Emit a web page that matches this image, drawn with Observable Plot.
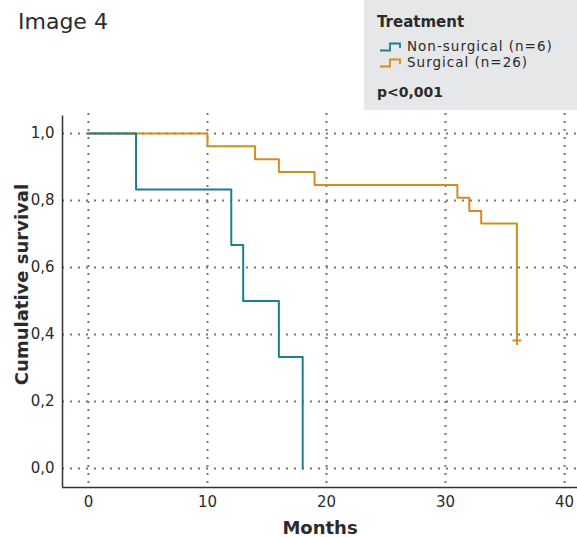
<!DOCTYPE html>
<html>
<head>
<meta charset="utf-8">
<script src="https://cdn.jsdelivr.net/npm/d3@7"></script>
<script src="https://cdn.jsdelivr.net/npm/@observablehq/plot@0.6"></script>
<style>
  html, body { margin: 0; padding: 0; background: #fff; }
  #wrap { position: relative; width: 577px; height: 537px; font-family: "DejaVu Sans", sans-serif; color: #2b2b2b; }
  #wrap svg { display: block; }
  .abs { position: absolute; white-space: nowrap; }
  #legend { position: absolute; left: 364px; top: 0; width: 213px; height: 110px; background: #e6e7e8; }
</style>
</head>
<body>
<div id="wrap">
  <div id="chart"></div>
  <div class="abs" id="title" style="left:18px; top:11px; font-size:22px; line-height:22px;">Image 4</div>
  <div id="legend"></div>
</div>
<script>
// ---- data ----
const title = "Image 4";
const legendTitle = "Treatment";
const pValue = "p<0,001";
const seriesNames = ["Non-surgical (n=6)", "Surgical (n=26)"];
const seriesColors = ["#1d7f8e", "#d38c1f"];

const nonSurgicalTime = [0, 4, 12, 13, 16, 18];
const nonSurgicalSurv = [1, 0.833, 0.667, 0.5, 0.333, 0];

const surgicalTime = [0, 10, 14, 16, 19, 31, 32, 33, 36];
const surgicalSurv = [1, 0.962, 0.923, 0.885, 0.846, 0.808, 0.769, 0.731, 0.382];

const censorTime = [36];
const censorSurv = [0.382];

const xTicks = [0, 10, 20, 30, 40];
const yTicks = [0, 0.2, 0.4, 0.6, 0.8, 1.0];
const xLabel = "Months";
const yLabel = "Cumulative survival";

// ---- build tables ----
const nonSurg = nonSurgicalTime.map((t, i) => ({t, s: nonSurgicalSurv[i]}));
const surg = surgicalTime.map((t, i) => ({t, s: surgicalSurv[i]}));
const censor = censorTime.map((t, i) => ({t, s: censorSurv[i]}));

const xDomain = [-2.18, 41.09];
const yDomain = [-0.0567, 1.0597];

const fmt = d => d.toFixed(1).replace(".", ",");

const plot = Plot.plot({
  width: 577,
  height: 537,
  marginTop: 113,
  marginBottom: 50,
  marginLeft: 62,
  marginRight: 0,
  style: {fontFamily: "DejaVu Sans, sans-serif", fontSize: "15px", color: "#2b2b2b", background: "transparent"},
  x: {domain: xDomain},
  y: {domain: yDomain},
  marks: [
    Plot.gridX(xTicks, {stroke: "#777", strokeOpacity: 1, strokeWidth: 2, strokeDasharray: "2,6"}),
    Plot.gridY(yTicks, {stroke: "#777", strokeOpacity: 1, strokeWidth: 2, strokeDasharray: "2,6"}),
    Plot.axisX(xTicks, {tickSize: 0, tickPadding: 9, label: null, fontSize: 15}),
    Plot.axisY(yTicks, {tickSize: 0, tickPadding: 8, tickFormat: fmt, label: null, fontSize: 15}),
    Plot.line(surg, {x: "t", y: "s", curve: "step-after", stroke: seriesColors[1], strokeWidth: 2}),
    Plot.line(nonSurg, {x: "t", y: "s", curve: "step-after", stroke: seriesColors[0], strokeWidth: 2}),
    Plot.dot(censor, {x: "t", y: "s", symbol: "plus", r: 3, stroke: seriesColors[1], strokeWidth: 2}),
    Plot.ruleX([xDomain[0]], {stroke: "#333", strokeWidth: 1.5, y1: 1.052, y2: yDomain[0]}),
    Plot.ruleY([yDomain[0]], {stroke: "#333", strokeWidth: 1.5}),
    Plot.text([xLabel], {text: d => d, frameAnchor: "bottom", lineAnchor: "middle", dy: 41, fontWeight: "bold", fontSize: 18}),
    Plot.text([yLabel], {text: d => d, frameAnchor: "left", textAnchor: "middle", lineAnchor: "middle", rotate: -90, dx: -40, dy: -16, fontWeight: "bold", fontSize: 18})
  ]
});
document.getElementById("chart").appendChild(plot);

// ---- legend ----
const leg = document.getElementById("legend");
function addText(txt, left, top, size, weight, spacing) {
  const d = document.createElement("div");
  d.className = "abs";
  d.style.left = left + "px";
  d.style.top = top + "px";
  d.style.fontSize = size + "px";
  d.style.lineHeight = size + "px";
  d.style.fontWeight = weight;
  if (spacing) d.style.letterSpacing = spacing + "px";
  d.textContent = txt;
  leg.appendChild(d);
}
addText(legendTitle, 13, 15, 15, "bold");
const rowTops = [40, 56];
seriesNames.forEach((name, i) => {
  const ns = "http://www.w3.org/2000/svg";
  const svg = document.createElementNS(ns, "svg");
  svg.setAttribute("width", 24);
  svg.setAttribute("height", 12);
  svg.style.position = "absolute";
  svg.style.left = "15px";
  svg.style.top = (rowTops[i] + 1) + "px";
  const p = document.createElementNS(ns, "path");
  p.setAttribute("d", "M1,9.5H11V2.5H21V7");
  p.setAttribute("fill", "none");
  p.setAttribute("stroke", seriesColors[i]);
  p.setAttribute("stroke-width", "1.8");
  svg.appendChild(p);
  leg.appendChild(svg);
  addText(name, 43, rowTops[i], 13.5, "normal", 1.0);
});
addText(pValue, 13, 85, 14, "bold");
</script>
</body>
</html>
